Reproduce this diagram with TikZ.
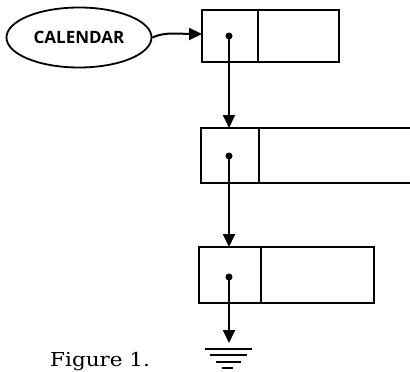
\documentclass[tikz,border=0pt]{standalone}
\usepackage{fontspec}
\usepackage{graphicx}
\usetikzlibrary{arrows.meta,shapes.geometric}
\newfontfamily\labelfont{Open Sans}
\newfontfamily\captionfont{DejaVu Serif}
\tikzset{
  cell/.style={draw, line width=2.4pt, rectangle, inner sep=0pt, outer sep=0pt},
  opencell/.style={rectangle, inner sep=0pt, outer sep=0pt},
  ptr/.style={circle, fill=black, inner sep=0pt, minimum size=7pt},
  link/.style={line width=2pt, -{Triangle[length=13pt,width=12pt]}},
  earth/.style={line width=2.2pt},
  varname/.style={draw, line width=1.8pt, ellipse, inner sep=0pt,
    minimum width=145pt, minimum height=60pt,
    font=\labelfont\bfseries\fontsize{17}{18}\selectfont},
}
\begin{document}
\begin{tikzpicture}[x=1pt, y=-1pt]
\useasboundingbox (0,0) rectangle (410,372);
\clip (0,0) rectangle (410,372);

% variable
\node[varname] (cal) at (79,37.5) {CALENDAR};

% first element
\node[cell, minimum width=56pt, minimum height=52pt] (a1) at (230,36) {};
\node[cell, minimum width=81pt, minimum height=52pt] (b1) at (298.5,36) {};
\node[ptr] (p1) at (229,36) {};

% second element (right cell runs off the edge)
\node[cell, minimum width=58pt, minimum height=55pt] (a2) at (230,155.5) {};
\node[opencell, minimum width=160pt, minimum height=55pt] (b2) at (339,155.5) {};
\draw[line width=2.4pt] (b2.north west) -- (b2.north east)
                        (b2.south west) -- (b2.south east);
\node[ptr] (p2) at (229,156) {};

% third element
\node[cell, minimum width=62pt, minimum height=56pt] (a3) at (230,275) {};
\node[cell, minimum width=113pt, minimum height=56pt] (b3) at (317.5,275) {};
\node[ptr] (p3) at (229,277) {};

% links
\draw[link] (cal.east) .. controls +(12,-6) and +(-20,0) .. ([yshift=2pt]a1.west);
\draw[link] (p1.center) -- (p1.center |- a2.north);
\draw[link] (p2.center) -- (p2.center |- a3.north);
\coordinate (nil) at (229,343);
\draw[link] (p3.center) -- (nil);

% ground symbol
\draw[earth] ([shift={(-24,6)}]nil) -- ++(47,0)
             ([shift={(-19,12)}]nil) -- ++(37,0)
             ([shift={(-13,19)}]nil) -- ++(25,0)
             ([shift={(-7,25)}]nil) -- ++(11,0);

% caption
\node[anchor=base west, inner sep=0pt] (cap) at (50,366.5)
  {\scalebox{1.12}[1]{\captionfont\fontsize{19.2}{21}\selectfont Figure 1.}};
\end{tikzpicture}
\end{document}
